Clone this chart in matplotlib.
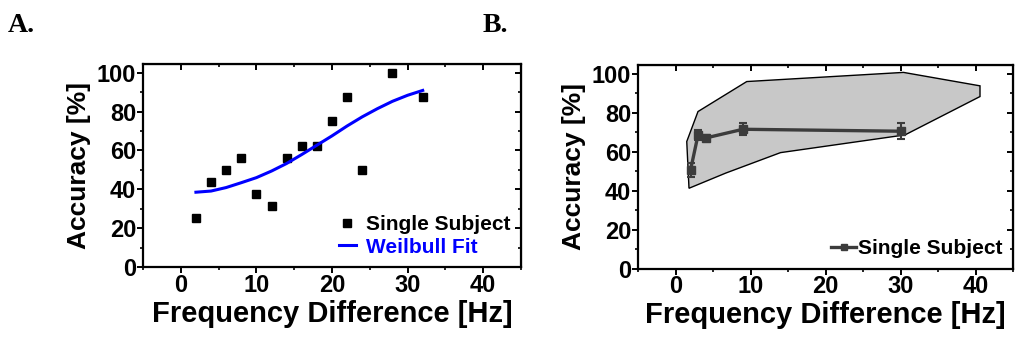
import numpy as np
import matplotlib
matplotlib.use('Agg')
import matplotlib.pyplot as plt
from matplotlib.ticker import MultipleLocator
from matplotlib.lines import Line2D

plt.rcParams['font.family'] = ['Liberation Sans', 'DejaVu Sans']
plt.rcParams['font.weight'] = 'bold'

# panel A: single subject accuracy per frequency difference
freq_a = [2, 4, 6, 8, 10, 12, 14, 16, 18, 20, 22, 24, 28, 32]
acc_a = [25, 43.75, 50, 56.25, 37.5, 31.25, 56.25, 62.5, 62.5, 75, 87.5, 50, 100, 87.5]

# Weibull fit curve
fit_x = [2, 4, 6, 8, 10, 12, 14, 16, 18, 20, 22, 24, 26, 28, 30, 32]
fit_y = [38.5, 39.1, 40.9, 43.4, 46.0, 49.4, 53.3, 57.9, 62.7, 67.5, 72.6, 77.3, 81.5, 85.3, 88.4, 90.9]

# panel B: mean accuracy with error bars
freq_b = [2, 3, 4, 9, 30]
acc_b = [50.5, 68.5, 67, 71.5, 70.5]
err_b = [3.5, 2.5, 1.5, 3, 4]

# outline of the shaded area
hull_x = [1.8, 1.5, 3.0, 9.5, 30.4, 40.6, 40.6, 30.6, 14.0, 6.7, 1.8]
hull_y = [41.2, 65.2, 80.6, 96.0, 100.7, 93.8, 88.3, 68.6, 59.5, 49.0, 41.2]

fig = plt.figure(figsize=(10.16, 3.39), dpi=100)
W, H = 1016, 339
axA = fig.add_axes([143 / W, 1 - 267 / H, (521 - 143) / W, (267 - 64) / H])
axB = fig.add_axes([638 / W, 1 - 268.5 / H, (1013 - 638) / W, (268.5 - 65) / H])


def style(ax):
    ax.set_xlim(-5, 45)
    ax.set_ylim(0, 104.5)
    ax.xaxis.set_major_locator(MultipleLocator(10))
    ax.xaxis.set_minor_locator(MultipleLocator(5))
    ax.yaxis.set_major_locator(MultipleLocator(20))
    ax.yaxis.set_minor_locator(MultipleLocator(10))
    for s in ax.spines.values():
        s.set_linewidth(1.6)
    ax.tick_params(which='major', direction='out', length=4, width=1.4, labelsize=17, pad=1)
    ax.tick_params(which='minor', direction='out', length=2.5, width=1.2)
    for lab in ax.get_xticklabels() + ax.get_yticklabels():
        lab.set_fontweight('bold')
    # mirrored ticks pointing inside
    top = ax.secondary_xaxis('top')
    top.xaxis.set_major_locator(MultipleLocator(10))
    top.xaxis.set_minor_locator(MultipleLocator(5))
    top.tick_params(which='major', direction='in', length=4, width=1.4, labeltop=False)
    top.tick_params(which='minor', direction='in', length=2.5, width=1.2)
    right = ax.secondary_yaxis('right')
    right.yaxis.set_major_locator(MultipleLocator(20))
    right.yaxis.set_minor_locator(MultipleLocator(10))
    right.tick_params(which='major', direction='in', length=4, width=1.4, labelright=False)
    right.tick_params(which='minor', direction='in', length=2.5, width=1.2)
    ax.set_xlabel('Frequency Difference [Hz]', fontsize=21, fontweight='bold', labelpad=2)
    ax.set_ylabel('Accuracy [%]', fontsize=19, fontweight='bold', labelpad=4)


# panel A
axA.plot(freq_a, acc_a, 's', color='black', markersize=5.5, label='Single Subject')
axA.plot(fit_x, fit_y, '-', color='#0000ff', linewidth=2.2, label='Weilbull Fit')
style(axA)
legA = axA.legend(loc='lower right', frameon=False, handlelength=0.8,
                  handletextpad=0.5, labelspacing=0.15, borderaxespad=0.1,
                  prop={'weight': 'bold', 'size': 15})
legA.get_texts()[1].set_color('#0000ff')

# panel B
axB.fill(hull_x, hull_y, facecolor='#c8c8c8', edgecolor='black', linewidth=1.0)
axB.errorbar(freq_b, acc_b, yerr=err_b, fmt='-s', color='#3c3c3c', markersize=6,
             linewidth=2.4, elinewidth=1.5, capsize=3, capthick=1.5)
style(axB)
handle_b = Line2D([], [], color='#3c3c3c', marker='s', markersize=5, linewidth=2.4)
axB.legend([handle_b], ['Single Subject'], loc='lower right', frameon=False,
           handlelength=1.2, handletextpad=0.1, borderaxespad=0.1,
           prop={'weight': 'bold', 'size': 15})

fig.text(8 / W, 1 - 32 / H, 'A.', family=['Liberation Serif', 'DejaVu Serif'],
         fontsize=20, fontweight='bold')
fig.text(483 / W, 1 - 32 / H, 'B.', family=['Liberation Serif', 'DejaVu Serif'],
         fontsize=20, fontweight='bold')

fig.savefig('out.png', dpi=100)
